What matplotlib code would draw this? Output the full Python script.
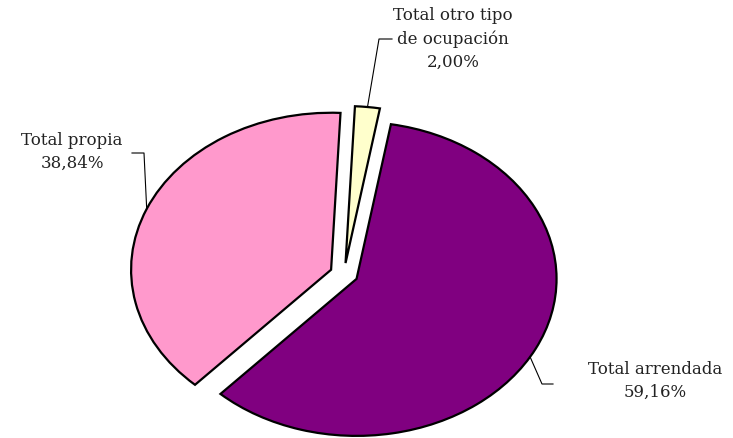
import matplotlib
matplotlib.use("Agg")
import matplotlib.pyplot as plt
import numpy as np

categories = ["Total otro tipo\nde ocupación", "Total arrendada", "Total propia"]
values = [2.00, 59.16, 38.84]
labels_pct = ["2,00%", "59,16%", "38,84%"]
colors = ["#FFFFCC", "#800080", "#FF99CC"]

W, H = 733, 438
fig = plt.figure(figsize=(W / 100, H / 100), dpi=100)
ax = fig.add_axes([0, 0, 1, 1])

cx, cy, rx, ry = 344, 274, 200, 157  # pixel layout of pie ellipse
expl = 0.07
wedges, _ = ax.pie(values, colors=colors, startangle=87.3, counterclock=False,
                   explode=[expl] * 3,
                   wedgeprops=dict(edgecolor="black", linewidth=1.6))
ax.set_aspect("auto")
ax.set_xlim((0 - cx) / rx, (W - cx) / rx)
ax.set_ylim((cy - H) / ry, (cy - 0) / ry)
ax.axis("off")


def P(px, py):
    return ((px - cx) / rx, (cy - py) / ry)


def edge_point(w, frac=0.5):
    ang = np.deg2rad(w.theta1 + (w.theta2 - w.theta1) * frac)
    r = 1 + expl
    return (r * np.cos(ang), r * np.sin(ang))


font = dict(family="DejaVu Serif", fontsize=12, color="#222222")

# label layout: (elbow px, end px, text center px, angle fraction)
layout = [
    ((379, 39), (392, 39), (453, 39), 0.5),
    ((542, 384), (553, 384), (655, 381), 0.485),
    ((144, 153), (132, 153), (72, 152), 0.5),
]
for w, cat, pct, (elb, end, tc, fr) in zip(wedges, categories, labels_pct, layout):
    p0 = edge_point(w, fr)
    e1 = P(*elb)
    e2 = P(*end)
    ax.plot([p0[0], e1[0], e2[0]], [p0[1], e1[1], e2[1]], color="black", lw=0.8)
    t = P(*tc)
    ax.text(t[0], t[1], cat + "\n" + pct, ha="center", va="center",
            linespacing=1.45, **font)

fig.savefig("out.png", dpi=100)
